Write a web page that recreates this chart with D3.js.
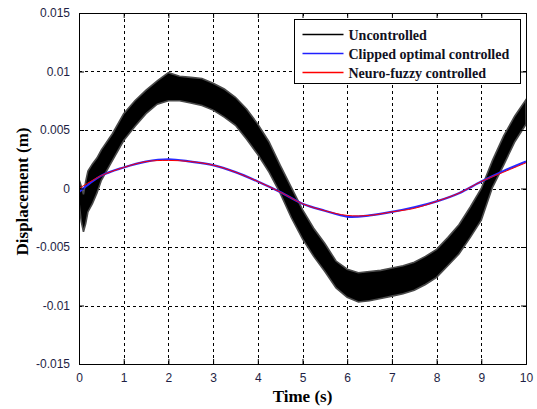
<!DOCTYPE html>
<html>
<head>
<meta charset="utf-8">
<script src="https://cdn.jsdelivr.net/npm/d3@7"></script>
<style>
  body { margin: 0; background: #fff; }
</style>
</head>
<body>
<div id="chart"></div>
<script>
// Uncontrolled response: noisy band, read as upper / lower envelope
const uncTime  = [0, 0.05, 0.1, 0.15, 0.2, 0.3, 0.4, 0.5, 0.75, 1.0, 1.25, 1.5, 1.75, 2.0, 2.25, 2.5, 2.75, 3.0, 3.25, 3.5, 3.75, 4.0, 4.25, 4.5, 4.75, 5.0, 5.25, 5.5, 5.75, 6.0, 6.25, 6.5, 6.75, 7.0, 7.25, 7.5, 7.75, 8.0, 8.25, 8.5, 8.75, 9.0, 9.25, 9.5, 9.75, 10.0];
const uncUpper = [0.0008, 0.0002, -0.0005, 0.0006, 0.0015, 0.0021, 0.0026, 0.0033, 0.0047, 0.0064, 0.0075, 0.0084, 0.0092, 0.0099, 0.0096, 0.0095, 0.0094, 0.0090, 0.0085, 0.0078, 0.0068, 0.0055, 0.0040, 0.0020, 0.0001, -0.0018, -0.0034, -0.0047, -0.0062, -0.0069, -0.0072, -0.0071, -0.0070, -0.0068, -0.0066, -0.0063, -0.0058, -0.0052, -0.0042, -0.0031, -0.0016, 0.0000, 0.0024, 0.0045, 0.0062, 0.0076];
const uncLower = [-0.0012, -0.0028, -0.0037, -0.0030, -0.0020, -0.0013, -0.0004, 0.0007, 0.0024, 0.0041, 0.0053, 0.0064, 0.0072, 0.0075, 0.0075, 0.0073, 0.0071, 0.0067, 0.0061, 0.0054, 0.0042, 0.0029, 0.0014, -0.0004, -0.0025, -0.0043, -0.0058, -0.0071, -0.0085, -0.0093, -0.0097, -0.0096, -0.0094, -0.0092, -0.0090, -0.0087, -0.0082, -0.0076, -0.0066, -0.0056, -0.0042, -0.0027, 0.0001, 0.0020, 0.0040, 0.0055];

// Controlled responses
const ctrlTime = [0, 0.5, 1.0, 1.5, 2.0, 2.5, 3.0, 3.5, 4.0, 4.5, 5.0, 5.5, 6.0, 6.5, 7.0, 7.5, 8.0, 8.5, 9.0, 9.5, 10.0];
const clipped  = [-0.0003, 0.0011, 0.0018, 0.0023, 0.0025, 0.0023, 0.0020, 0.0014, 0.0006, -0.0003, -0.0013, -0.0019, -0.0024, -0.0023, -0.0020, -0.0016, -0.0011, -0.0004, 0.0006, 0.0015, 0.0023];
const neuro    = [0.0000, 0.0011, 0.0018, 0.0023, 0.0024, 0.0023, 0.0020, 0.0014, 0.0006, -0.0003, -0.0013, -0.0019, -0.0023, -0.0023, -0.0020, -0.0017, -0.0011, -0.0004, 0.0006, 0.0014, 0.0022];

const xTicks = [0, 1, 2, 3, 4, 5, 6, 7, 8, 9, 10];
const yTicks = [-0.015, -0.01, -0.005, 0, 0.005, 0.01, 0.015];
const legendLabels = ["Uncontrolled", "Clipped optimal controlled", "Neuro-fuzzy controlled"];
const legendColors = ["#000000", "#2020ff", "#ff0000"];

const W = 537, H = 409;
const margin = { top: 13, right: 11, bottom: 45, left: 79 };
const width = W - margin.left - margin.right;
const height = H - margin.top - margin.bottom;

const svg = d3.select("#chart").append("svg")
    .attr("width", W)
    .attr("height", H);

const g = svg.append("g")
    .attr("transform", `translate(${margin.left},${margin.top})`);

const x = d3.scaleLinear().domain([0, 10]).range([0, width]);
const y = d3.scaleLinear().domain([-0.015, 0.015]).range([height, 0]);

// Grid lines (dashed)
g.append("g")
    .selectAll("line")
    .data(xTicks.slice(1, -1))
    .join("line")
    .attr("x1", d => Math.round(x(d)) + 0.5).attr("x2", d => Math.round(x(d)) + 0.5)
    .attr("y1", 0).attr("y2", height)
    .attr("stroke", "#000")
    .attr("stroke-width", 1)
    .attr("stroke-dasharray", "3,3");

g.append("g")
    .selectAll("line")
    .data(yTicks.slice(1, -1))
    .join("line")
    .attr("x1", 0).attr("x2", width)
    .attr("y1", d => Math.round(y(d)) + 0.5).attr("y2", d => Math.round(y(d)) + 0.5)
    .attr("stroke", "#000")
    .attr("stroke-width", 1)
    .attr("stroke-dasharray", "3,3");

svg.append("defs").append("clipPath").attr("id", "plotclip")
    .append("rect").attr("width", width).attr("height", height);

const plot = g.append("g").attr("clip-path", "url(#plotclip)");

// Uncontrolled band
const band = uncTime.map((t, i) => ({ t, hi: uncUpper[i], lo: uncLower[i] }));
plot.append("path")
    .datum(band)
    .attr("d", d3.area()
        .x(d => x(d.t))
        .y0(d => y(d.lo))
        .y1(d => y(d.hi))
        .curve(d3.curveLinear))
    .attr("fill", "#000")
    .attr("stroke", "#4a4a4a")
    .attr("stroke-width", 1.6);

const line = d3.line()
    .x(d => x(d[0]))
    .y(d => y(d[1]))
    .curve(d3.curveCatmullRom);

plot.append("path")
    .datum(ctrlTime.map((t, i) => [t, clipped[i]]))
    .attr("d", line)
    .attr("fill", "none")
    .attr("stroke", "#2a2aff")
    .attr("stroke-width", 2.2);

plot.append("path")
    .datum(ctrlTime.map((t, i) => [t, neuro[i]]))
    .attr("d", line)
    .attr("fill", "none")
    .attr("stroke", "#ff0000")
    .attr("stroke-width", 1);

// Axes, MATLAB style box with inward ticks
const tickFont = "'Liberation Sans', Arial, sans-serif";
const tickColor = "#1e1e44";

const xAxis = g.append("g")
    .attr("transform", `translate(0,${height})`)
    .call(d3.axisBottom(x).tickValues(xTicks).tickSize(-5).tickPadding(9).tickFormat(d3.format("d")));
const xAxisTop = g.append("g")
    .call(d3.axisTop(x).tickValues(xTicks).tickSize(-5).tickFormat(""));
const yAxis = g.append("g")
    .call(d3.axisLeft(y).tickValues(yTicks).tickSize(-5).tickPadding(9).tickFormat(d => d === 0 ? "0" : String(+d.toFixed(3))));
const yAxisRight = g.append("g")
    .attr("transform", `translate(${width},0)`)
    .call(d3.axisRight(y).tickValues(yTicks).tickSize(-5).tickFormat(""));

[xAxis, xAxisTop, yAxis, yAxisRight].forEach(a => {
    a.select(".domain").attr("stroke", "#000").attr("stroke-width", 1);
    a.selectAll(".tick line").attr("stroke", "#000");
    a.selectAll("text")
        .attr("font-family", tickFont)
        .attr("font-size", "12px")
        .attr("fill", tickColor);
});

// Axis titles
svg.append("text")
    .attr("x", margin.left + width / 2)
    .attr("y", 402)
    .attr("text-anchor", "middle")
    .attr("font-family", "'Liberation Serif', 'Times New Roman', serif")
    .attr("font-weight", "bold")
    .attr("font-size", "17px")
    .attr("fill", "#000")
    .text("Time (s)");

svg.append("text")
    .attr("transform", `translate(28,${margin.top + height / 2 + 3}) rotate(-90)`)
    .attr("text-anchor", "middle")
    .attr("font-family", "'Liberation Serif', 'Times New Roman', serif")
    .attr("font-weight", "bold")
    .attr("font-size", "17px")
    .attr("fill", "#000")
    .text("Displacement (m)");

// Legend
const legend = svg.append("g").attr("transform", "translate(294.5,19.5)");
legend.append("rect")
    .attr("width", 226)
    .attr("height", 64)
    .attr("fill", "#fff")
    .attr("stroke", "#000")
    .attr("stroke-width", 1);

legendLabels.forEach((label, i) => {
    const row = legend.append("g").attr("transform", `translate(0,${15 + i * 19})`);
    row.append("line")
        .attr("x1", 8).attr("x2", 49)
        .attr("y1", 0).attr("y2", 0)
        .attr("stroke", legendColors[i])
        .attr("stroke-width", 1.6);
    row.append("text")
        .attr("x", 54)
        .attr("y", 5)
        .attr("font-family", "'Liberation Serif', 'Times New Roman', serif")
        .attr("font-weight", "bold")
        .attr("font-size", "14px")
        .attr("fill", "#111122")
        .text(label);
});
</script>
</body>
</html>
